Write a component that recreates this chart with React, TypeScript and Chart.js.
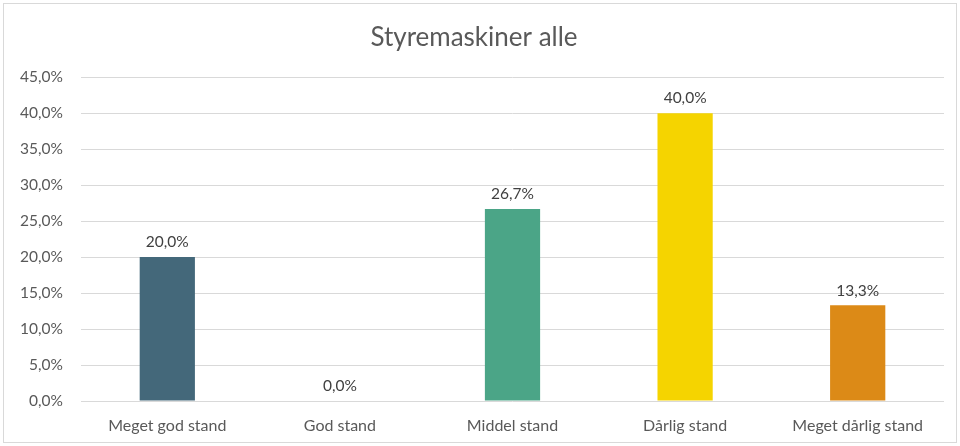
import React, { useEffect, useRef } from "react";
import { Chart, registerables } from "chart.js";

Chart.register(...registerables);

const title = "Styremaskiner alle";
const categories = ["Meget god stand", "God stand", "Middel stand", "Dårlig stand", "Meget dårlig stand"];
const values = [20.0, 0.0, 26.7, 40.0, 13.3];
const barColors = ["#44687A", "#6C8EBF", "#4BA587", "#F5D400", "#DC8A17"];
const yMin = 0;
const yMax = 45;
const yStep = 5;

const FONT = "Lato, 'Open Sans', sans-serif";

const fmt = (v: number) => v.toFixed(1).replace(".", ",") + "%";

const labelPlugin = {
  id: "barLabels",
  afterDatasetsDraw(chart: any) {
    const ctx = chart.ctx;
    const meta = chart.getDatasetMeta(0);
    ctx.save();
    ctx.font = `15.5px ${FONT}`;
    ctx.fillStyle = "#404040";
    ctx.textAlign = "center";
    ctx.textBaseline = "bottom";
    meta.data.forEach((el: any, i: number) => {
      const v = chart.data.datasets[0].data[i] as number;
      ctx.fillText(fmt(v), el.x, el.y - 7);
    });
    ctx.restore();
  },
};

export default function App() {
  const ref = useRef<HTMLCanvasElement>(null);
  useEffect(() => {
    if (!ref.current) return;
    const chart = new Chart(ref.current, {
      type: "bar",
      data: {
        labels: categories,
        datasets: [
          {
            data: values,
            backgroundColor: barColors,
            categoryPercentage: 1,
            barPercentage: 0.32,
          },
        ],
      },
      options: {
        animation: false,
        responsive: false,
        maintainAspectRatio: false,
        layout: { padding: { left: 0, right: 12, top: 0, bottom: 0 } },
        plugins: {
          legend: { display: false },
          tooltip: { enabled: false },
          title: {
            display: true,
            text: title,
            color: "#595959",
            font: { family: FONT, size: 26, weight: "normal" },
            padding: { top: 18, bottom: 24 },
          },
        },
        scales: {
          x: {
            grid: { display: false, drawTicks: false },
            border: { display: false },
            ticks: {
              color: "#595959",
              font: { family: FONT, size: 16 },
              padding: 15,
              maxRotation: 0,
            },
            afterFit: (s: any) => {
              s.height = 41;
            },
          },
          y: {
            min: yMin,
            max: yMax,
            grid: { color: "#d9d9d9", lineWidth: 1, drawTicks: false },
            border: { display: false },
            ticks: {
              stepSize: yStep,
              color: "#595959",
              font: { family: FONT, size: 15.5 },
              padding: 18,
              callback: (v: any) => fmt(Number(v)),
            },
            afterFit: (s: any) => {
              s.width = 77;
            },
          },
        },
      },
      plugins: [labelPlugin],
    });
    return () => chart.destroy();
  }, []);
  return (
    <div
      style={{
        position: "absolute",
        left: 0,
        top: 0,
        width: 960,
        height: 446,
        background: "#fff",
      }}
    >
      <div
        style={{
          position: "absolute",
          left: 3,
          top: 3,
          width: 952,
          height: 438,
          border: "1px solid #d9d9d9",
        }}
      >
        <canvas ref={ref} width={952} height={438} style={{ display: "block" }} />
      </div>
    </div>
  );
}
